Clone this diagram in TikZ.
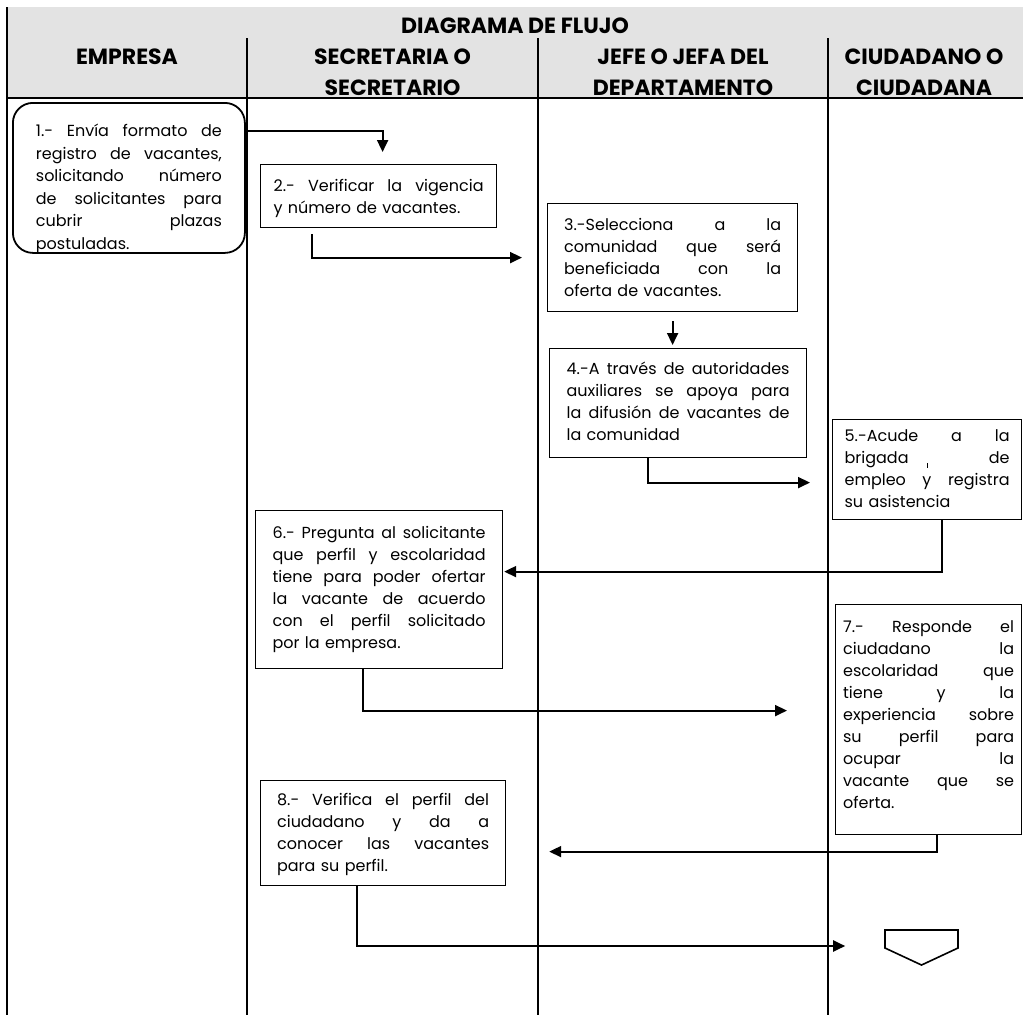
\documentclass[tikz,border=0pt]{standalone}
\usepackage{fontspec}
\setmainfont{Poppins}
\usetikzlibrary{arrows.meta,positioning,shapes.symbols}
\definecolor{fondo}{HTML}{E3E3E3}
\newlength{\anchoT}
\newcommand{\jl}[1]{\makebox[\anchoT][s]{\spaceskip=.27em plus 1fil\relax #1}}

\begin{document}
\begin{tikzpicture}[x=1pt, y=-1pt,
  tabla/.style={line width=1.2pt},
  enc/.style={font=\bfseries\fontsize{22}{31}\selectfont, align=center, inner sep=0pt, anchor=base},
  caja/.style={draw, line width=1.2pt, anchor=north west, align=left, inner ysep=0pt,
    font=\fontsize{16}{22}\selectfont, text width=#1,
    execute at begin node={\setlength{\anchoT}{#1}}},
  inicio/.style={caja=#1, rounded corners=20pt, line width=1.8pt,
    font=\fontsize{16}{22.5}\selectfont},
  flecha/.style={-{Triangle[length=12pt,width=11pt]}, line width=2pt},
  fin/.style={draw, line width=1.6pt, signal, signal to=south, signal pointer angle=130,
    minimum width=73pt, minimum height=18pt, inner sep=0pt}
]
  \useasboundingbox (0,0) rectangle (1023,1015);
  \fill[fondo] (7,7) rectangle (1023,98);
  \draw[tabla] (7,7) -- (7,1015);
  \draw[tabla] (7,98) -- (1023,98);
  \foreach \cx in {247,538,828}
    \draw[tabla] (\cx,38) -- (\cx,1015);

  % encabezados
  \node[enc] (tit) at (515,33) {DIAGRAMA DE FLUJO};
  \node[enc] (emp) at (127,64) {EMPRESA};
  \node[enc] (sec) at (392.5,95) {SECRETARIA O\\SECRETARIO};
  \node[enc] (jef) at (683,95) {JEFE O JEFA DEL\\DEPARTAMENTO};
  \node[enc] (ciu) at (924,95) {CIUDADANO O\\CIUDADANA};

  % actividades
  \node[inicio=186pt, inner xsep=23pt, text height=34pt, text depth=116pt] (b1) at (12,102)
    {\jl{1.- Envía formato de}\\ \jl{registro de vacantes,}\\ \jl{solicitando número}\\
     \jl{de solicitantes para}\\ \jl{cubrir plazas}\\ postuladas.};
  \node[caja=210pt, inner xsep=13pt, text height=27pt, text depth=36pt] (b2) at (260,164)
    {\jl{2.- Verificar la vigencia}\\ y número de vacantes.};
  \node[caja=217pt, inner xsep=16.5pt, text height=27pt, text depth=81pt] (b3) at (547,203)
    {\jl{3.-Selecciona a la}\\ \jl{comunidad que será}\\ \jl{beneficiada con la}\\ oferta de vacantes.};
  \node[caja=223pt, inner xsep=17pt, text height=26pt, text depth=83pt] (b4) at (549,348)
    {\jl{4.-A través de autoridades}\\ \jl{auxiliares se apoya para}\\ \jl{la difusión de vacantes de}\\ la comunidad};
  \node[caja=165pt, inner xsep=12pt, text height=22pt, text depth=78pt] (b5) at (832,419)
    {\jl{5.-Acude a la}\\ \jl{brigada\hspace{18pt}\raisebox{-4pt}{\rule{0.7pt}{5pt}} de}\\ \jl{empleo y registra}\\ su asistencia};
  \node[caja=213pt, inner xsep=17pt, text height=28pt, text depth=130pt] (b6) at (255,510)
    {\jl{6.- Pregunta al solicitante}\\ \jl{que perfil y escolaridad}\\ \jl{tiene para poder ofertar}\\
     \jl{la vacante de acuerdo}\\ \jl{con el perfil solicitado}\\ por la empresa.};
  \node[caja=171pt, inner xsep=7.5pt, text height=28pt, text depth=202pt] (b7) at (835,604)
    {\jl{7.- Responde el}\\ \jl{ciudadano la}\\ \jl{escolaridad que}\\ \jl{tiene y la}\\ \jl{experiencia sobre}\\
     \jl{su perfil para}\\ \jl{ocupar la}\\ \jl{vacante que se}\\ oferta.};
  \node[caja=212pt, inner xsep=16.5pt, text height=25pt, text depth=80pt] (b8) at (260,780)
    {\jl{8.- Verifica el perfil del}\\ \jl{ciudadano y da a}\\ \jl{conocer las vacantes}\\ para su perfil.};
  \node[fin] (fin) at (921.5,939) {};

  % conectores
  \draw[flecha] ([yshift=-29pt]b1.north east) -| ([xshift=4pt,yshift=12pt]b2.north);
  \draw[flecha] ([xshift=52pt,yshift=-6pt]b2.south west) |- ([xshift=-25pt]b3.west);
  \draw[flecha] ([yshift=-9pt]b3.south) -- ([yshift=3pt]b3.south |- b4.north);
  \draw[flecha] ([xshift=99pt]b4.south west) |- ([xshift=-22pt,yshift=-13pt]b5.west);
  \draw[flecha] ([xshift=110pt]b5.south west) |- ([xshift=1pt,yshift=18pt]b6.east);
  \draw[flecha] ([xshift=108pt]b6.south west) |- ([xshift=-48pt,yshift=9pt]b7.west);
  \draw[flecha] ([xshift=102pt]b7.south west) |- ([xshift=43pt,yshift=-18.5pt]b8.east);
  \draw[flecha] ([xshift=97pt]b8.south west) |- ([xshift=-39pt,yshift=-7pt]fin.west);
\end{tikzpicture}
\end{document}
